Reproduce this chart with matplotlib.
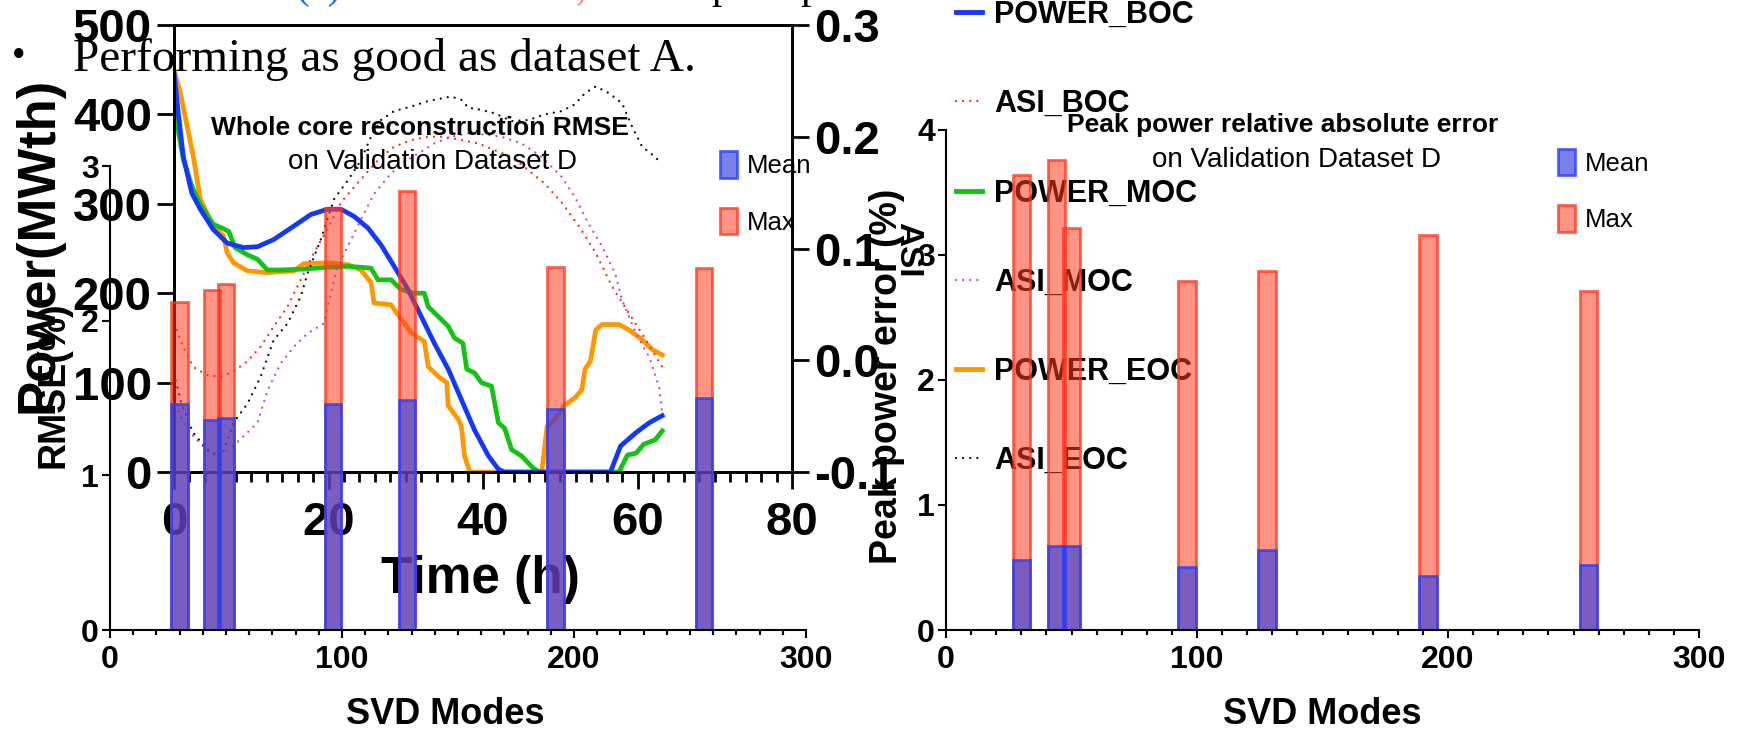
import matplotlib
matplotlib.use("Agg")
import matplotlib.pyplot as plt
from matplotlib.lines import Line2D
from matplotlib.patches import Patch
from matplotlib.ticker import MultipleLocator

plt.rcParams["font.family"] = ["Liberation Sans", "DejaVu Sans"]
plt.rcParams["font.weight"] = "bold"
plt.rcParams["axes.labelweight"] = "bold"

W, H = 1750, 729

# SVD mode sweep on validation dataset D
svd_modes = [30, 44, 50, 96, 128, 192, 256]
rmse_mean = [1.46, 1.36, 1.37, 1.46, 1.49, 1.43, 1.50]
rmse_max = [2.12, 2.20, 2.24, 2.73, 2.84, 2.35, 2.34]
peak_mean = [0.56, 0.67, 0.67, 0.50, 0.64, 0.43, 0.52]
peak_max = [3.64, 3.76, 3.21, 2.79, 2.87, 3.16, 2.71]

# power transients (MWth) for BOC / MOC / EOC
t_boc = [0, 0.6, 1.2, 2.3, 3.4, 5.1, 6.9, 9.0, 10.8, 12.9, 15.5, 17.7, 19.9, 21.6,
         23.3, 25.1, 26.8, 28.5, 30.3, 32.0, 33.7, 35.5, 37.2, 38.9, 40.7, 42.0,
         42.8, 56.5, 57.8, 59.8, 61.5, 63.2]
power_boc = [447, 398, 353, 312, 294, 271, 256, 251, 252, 260, 275, 288, 294, 294,
             286, 273, 254, 230, 204, 174, 144, 115, 81, 47, 18, 3,
             0, 0, 29, 44, 55, 63]

t_moc = [0, 0.6, 1.2, 2.3, 3.4, 5.1, 6.2, 7.1, 7.9, 9.5, 10.8, 12.1, 13.8, 16.8,
         19.9, 22.5, 24.2, 25.5, 26.4, 28.1, 29.4, 31.1, 32.4, 32.9, 34.2, 35.5,
         36.3, 37.4, 37.9, 38.9, 39.8, 41.1, 42.0, 42.8, 43.7, 45.0, 46.3, 47.2,
         57.6, 58.7, 59.8, 60.8, 62.3, 63.2]
power_moc = [413, 379, 350, 320, 299, 277, 273, 269, 251, 243, 238, 226, 226, 227,
             229, 230, 229, 228, 215, 215, 204, 200, 200, 185, 174, 163,
             150, 144, 115, 111, 100, 96, 55, 49, 25, 18, 6, 0,
             0, 19, 21, 31, 36, 46]

t_eoc = [0, 0.8, 2.5, 3.4, 5.1, 6.4, 6.9, 7.7, 9.5, 12.1, 15.5, 16.8, 19.9, 22.5,
         24.2, 25.5, 25.9, 28.1, 29.4, 30.7, 32.4, 32.9, 34.2, 35.3, 35.5, 36.8,
         37.2, 37.6, 38.3, 47.6, 48.3, 49.3, 50.6, 51.9, 52.8, 53.2, 53.9, 54.6,
         55.4, 57.6, 58.9, 60.6, 61.9, 63.2]
power_eoc = [450, 425, 353, 305, 275, 264, 245, 234, 225, 223, 225, 233, 234, 232,
             226, 212, 189, 187, 171, 156, 146, 118, 107, 100, 74, 59,
             51, 18, 0, 0, 51, 59, 75, 83, 92, 115, 124, 159,
             165, 165, 159, 148, 137, 131]

# axial shape index for BOC / MOC / EOC
t_asi_boc = [0, 1.2, 2.5, 4.2, 6.0, 7.7, 9.5, 11.2, 12.9, 14.7, 16.4, 18.1, 19.9,
             21.6, 23.3, 25.1, 26.8, 28.5, 30.7, 32.9, 35.0, 37.2, 39.4, 41.5,
             43.7, 45.9, 48.0, 50.2, 52.4, 54.6, 56.7, 58.9, 61.1, 63.2]
asi_boc = [0.033, 0.012, -0.006, -0.013, -0.015, -0.010, -0.001, 0.012, 0.030,
           0.048, 0.072, 0.096, 0.118, 0.141, 0.155, 0.169, 0.182, 0.191, 0.197,
           0.200, 0.200, 0.197, 0.194, 0.188, 0.182, 0.170, 0.158, 0.141, 0.120,
           0.096, 0.066, 0.042, 0.018, -0.006]

t_asi_moc = [0, 0.8, 2.5, 4.2, 5.8, 7.3, 9.0, 10.8, 12.1, 13.8, 15.5, 17.3, 19.4,
             20.3, 21.2, 22.5, 24.2, 25.9, 27.7, 29.4, 31.6, 33.7, 35.9, 38.1,
             40.2, 42.4, 45.0, 47.6, 50.2, 51.9, 53.6, 55.4, 57.1, 58.0, 59.8,
             61.5, 62.8, 63.2]
asi_moc = [-0.027, -0.050, -0.068, -0.080, -0.085, -0.079, -0.068, -0.056, -0.027,
           -0.003, 0.012, 0.024, 0.033, 0.060, 0.084, 0.102, 0.126, 0.149, 0.164,
           0.176, 0.185, 0.194, 0.200, 0.203, 0.202, 0.200, 0.194, 0.182, 0.164,
           0.146, 0.123, 0.102, 0.078, 0.054, 0.024, 0.003, -0.024, -0.047]

t_asi_eoc = [0, 1.0, 2.5, 4.7, 6.2, 7.7, 9.5, 11.2, 12.9, 14.7, 16.4, 17.3, 19.0,
             20.7, 22.5, 24.2, 25.5, 26.8, 28.5, 30.7, 32.9, 35.9, 37.2, 38.1,
             39.8, 41.5, 43.7, 45.9, 48.0, 50.2, 51.9, 53.2, 54.6, 56.3, 58.0,
             59.3, 60.6, 61.9, 63.2]
asi_eoc = [-0.012, -0.040, -0.065, -0.083, -0.086, -0.056, -0.039, -0.015, 0.018,
           0.033, 0.057, 0.078, 0.108, 0.144, 0.161, 0.179, 0.200, 0.215, 0.223,
           0.227, 0.232, 0.236, 0.233, 0.226, 0.224, 0.221, 0.214, 0.215, 0.220,
           0.223, 0.229, 0.239, 0.245, 0.239, 0.230, 0.209, 0.191, 0.184, 0.176]

power_ticks = [0, 100, 200, 300, 400, 500]
asi_ticks = [-0.1, 0.0, 0.1, 0.2, 0.3]
asi_tick_labels = ["-0.1", "0.0", "0.1", "0.2", "0.3"]
time_ticks = [0, 20, 40, 60, 80]
svd_ticks = [0, 100, 200, 300]

C_BOC = "#1238ff"
C_MOC = "#14c214"
C_EOC = "#ff9800"
C_ASI_BOC = "#ff2a10"
C_ASI_MOC = "#c040ff"
C_ASI_EOC = "#111111"

MAX_FACE = (1.0, 0.23, 0.12, 0.55)
MAX_EDGE = (1.0, 0.2, 0.1, 0.75)
MEAN_FACE = (0.2, 0.25, 0.88, 0.65)
MEAN_EDGE = (0.15, 0.25, 1.0, 0.8)

DOTS = (0, (0.01, 3.0))


def fx(px):
    return px / W


def fy(py):
    return 1 - py / H


def box(x0, y_top, x1, y_bottom):
    return [fx(x0), fy(y_bottom), (x1 - x0) / W, (y_bottom - y_top) / H]


fig = plt.figure(figsize=(W / 100, H / 100), dpi=100)

# ---- power / ASI transient (drawn first, sits underneath) ----
ax_line = fig.add_axes(box(174, 25, 792, 472))
ax_asi = ax_line.twinx()

ax_line.plot(t_eoc, power_eoc, color=C_EOC, lw=3.4, zorder=2)
ax_line.plot(t_moc, power_moc, color=C_MOC, lw=3.4, zorder=2.1)
ax_line.plot(t_boc, power_boc, color=C_BOC, lw=3.4, zorder=2.2)
dot_kw = dict(lw=1.7, linestyle=DOTS, dash_capstyle="round")
ax_asi.plot(t_asi_boc, asi_boc, color=C_ASI_BOC, **dot_kw)
ax_asi.plot(t_asi_moc, asi_moc, color=C_ASI_MOC, **dot_kw)
ax_asi.plot(t_asi_eoc, asi_eoc, color=C_ASI_EOC, **dot_kw)

ax_line.set_xlim(0, 80)
ax_line.set_ylim(0, 500)
ax_line.set_xticks(time_ticks)
ax_line.set_yticks(power_ticks)
ax_line.xaxis.set_minor_locator(MultipleLocator(2))
ax_line.tick_params(axis="both", which="major", labelsize=34, length=12, width=2, pad=4)
ax_line.tick_params(axis="x", which="major", pad=9)
ax_line.tick_params(axis="x", which="minor", length=7, width=2)
ax_asi.set_ylim(-0.1, 0.3)
ax_asi.set_yticks(asi_ticks)
ax_asi.set_yticklabels(asi_tick_labels)
ax_asi.tick_params(axis="y", labelsize=34, length=12, width=2, pad=4)
for a in (ax_line, ax_asi):
    for sp in a.spines.values():
        sp.set_linewidth(2)

ax_line.set_ylabel("Power(MWth)", fontsize=38, va="center")
ax_line.yaxis.set_label_coords(fx(39), fy(245), transform=fig.transFigure)
ax_line.set_xlabel("Time (h)", fontsize=37, va="center")
ax_line.xaxis.set_label_coords(fx(480), fy(580), transform=fig.transFigure)
ax_asi.set_ylabel("ASI", fontsize=24, rotation=270, va="center")
ax_asi.yaxis.set_label_coords(fx(908), fy(250), transform=fig.transFigure)

line_handles = [
    Line2D([], [], color=C_BOC, lw=3.5),
    Line2D([], [], color=C_ASI_BOC, **dot_kw),
    Line2D([], [], color=C_MOC, lw=3.5),
    Line2D([], [], color=C_ASI_MOC, **dot_kw),
    Line2D([], [], color=C_EOC, lw=3.5),
    Line2D([], [], color=C_ASI_EOC, **dot_kw),
]
line_labels = ["POWER_BOC", "ASI_BOC", "POWER_MOC", "ASI_MOC", "POWER_EOC", "ASI_EOC"]
ax_line.legend(line_handles, line_labels, loc="center left",
               bbox_to_anchor=(fx(956), fy(238)), bbox_transform=fig.transFigure,
               frameon=False, borderpad=0, borderaxespad=0, handlelength=0.85,
               handletextpad=0.4, labelspacing=1.94,
               prop={"size": 22, "weight": "bold"})


def bar_panel(ax, mean, vmax, ymax, title, sub, title_xy, sub_xy, legend_xy):
    ax.patch.set_visible(False)
    ax.bar(svd_modes, vmax, width=7, facecolor=MAX_FACE, edgecolor=MAX_EDGE, lw=2)
    ax.bar(svd_modes, mean, width=7, facecolor=MEAN_FACE, edgecolor=MEAN_EDGE, lw=2)
    ax.set_xlim(0, 300)
    ax.set_ylim(0, ymax)
    ax.set_xticks(svd_ticks)
    ax.set_yticks(range(ymax + 1))
    ax.xaxis.set_minor_locator(MultipleLocator(10))
    ax.spines["top"].set_visible(False)
    ax.spines["right"].set_visible(False)
    ax.spines["left"].set_linewidth(1.5)
    ax.spines["bottom"].set_linewidth(1.5)
    ax.tick_params(axis="both", which="major", labelsize=23, length=6, width=1.5, pad=2)
    ax.tick_params(axis="x", which="major", pad=5)
    ax.tick_params(axis="x", which="minor", length=3.5, width=1.5)
    ax.text(fx(title_xy[0]), fy(title_xy[1]), title, transform=fig.transFigure,
            ha="center", va="center", fontsize=19, fontweight="bold")
    ax.text(fx(sub_xy[0]), fy(sub_xy[1]), sub, transform=fig.transFigure,
            ha="center", va="center", fontsize=20, fontweight="normal")
    handles = [Patch(facecolor=MEAN_FACE, edgecolor=MEAN_EDGE, lw=2),
               Patch(facecolor=MAX_FACE, edgecolor=MAX_EDGE, lw=2)]
    ax.legend(handles, ["Mean", "Max"], loc="center left",
              bbox_to_anchor=(fx(legend_xy[0]), fy(legend_xy[1])),
              bbox_transform=fig.transFigure, frameon=False, borderpad=0,
              borderaxespad=0, handlelength=0.65, handleheight=1.2,
              handletextpad=0.4, labelspacing=1.15,
              prop={"size": 18.5, "weight": "normal"})


# ---- RMSE vs SVD modes ----
ax_rmse = fig.add_axes(box(110, 166, 806, 630))
bar_panel(ax_rmse, rmse_mean, rmse_max, 3,
          "Whole core reconstruction RMSE", "on Validation Dataset D",
          (420, 128), (433, 162), (720, 193))
ax_rmse.set_ylabel("RMSE(%)", fontsize=27, va="center")
ax_rmse.yaxis.set_label_coords(fx(53), fy(385), transform=fig.transFigure)
ax_rmse.set_xlabel("SVD Modes", fontsize=26, va="center")
ax_rmse.xaxis.set_label_coords(fx(445), fy(714), transform=fig.transFigure)

# ---- peak power error vs SVD modes ----
ax_peak = fig.add_axes(box(946, 129.5, 1699, 630))
bar_panel(ax_peak, peak_mean, peak_max, 4,
          "Peak power relative absolute error", "on Validation Dataset D",
          (1283, 125), (1296, 160), (1558, 190.5))
ax_peak.set_ylabel("Peak power error (%)", fontsize=27, va="center")
ax_peak.yaxis.set_label_coords(fx(887), fy(376), transform=fig.transFigure)
ax_peak.set_xlabel("SVD Modes", fontsize=26, va="center")
ax_peak.xaxis.set_label_coords(fx(1322), fy(714), transform=fig.transFigure)

# ---- slide text ----
serif = ["Liberation Serif", "DejaVu Serif"]
fig.text(fx(19), fy(58), "\u2022", family=serif, fontsize=28, fontweight="normal",
         ha="center", va="center")
fig.text(fx(73), fy(71), "Performing as good as dataset A.", family=serif,
         fontsize=34, fontweight="normal", ha="left", va="baseline")
fig.text(fx(295), fy(-2), "(a)", family=serif, fontsize=30, fontweight="normal",
         color="#1a73e8", va="baseline")
fig.text(fx(555), fy(-2), "b,", family=serif, fontsize=30, fontweight="normal",
         color="#ff8080", va="baseline")
fig.text(fx(712), fy(-2), "peak power", family=serif, fontsize=30, fontweight="normal",
         va="baseline")

fig.savefig("out.png", dpi=100)
